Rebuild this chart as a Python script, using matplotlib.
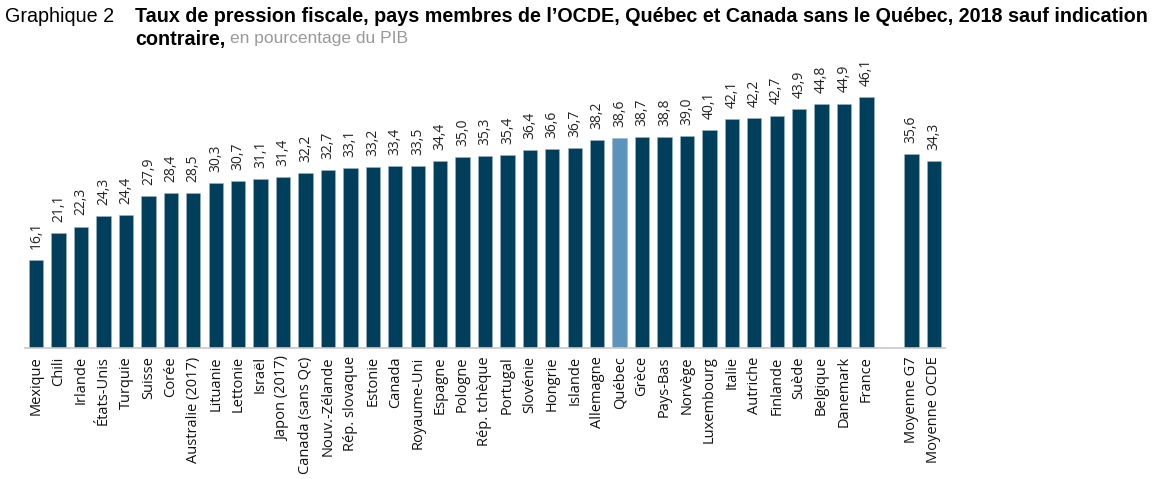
import numpy as np
import matplotlib.pyplot as plt

pays = ['Mexique', 'Chili', 'Irlande', 'États-Unis', 'Turquie', 'Suisse', 'Corée',
        'Australie (2017)', 'Lituanie', 'Lettonie', 'Israël', 'Japon (2017)',
        'Canada (sans Qc)', 'Nouv.-Zélande', 'Rép. slovaque', 'Estonie', 'Canada',
        'Royaume-Uni', 'Espagne', 'Pologne', 'Rép. tchèque', 'Portugal', 'Slovénie',
        'Hongrie', 'Islande', 'Allemagne', 'Québec', 'Grèce', 'Pays-Bas', 'Norvège',
        'Luxembourg', 'Italie', 'Autriche', 'Finlande', 'Suède', 'Belgique',
        'Danemark', 'France']
taux = [16.1, 21.1, 22.3, 24.3, 24.4, 27.9, 28.4, 28.5, 30.3, 30.7, 31.1, 31.4,
        32.2, 32.7, 33.1, 33.2, 33.4, 33.5, 34.4, 35.0, 35.3, 35.4, 36.4, 36.6,
        36.7, 38.2, 38.6, 38.7, 38.8, 39.0, 40.1, 42.1, 42.2, 42.7, 43.9, 44.8,
        44.9, 46.1]
moyennes = ['Moyenne G7', 'Moyenne OCDE']
taux_moy = [35.6, 34.3]

labels = pays + moyennes
valeurs = taux + taux_moy
x = list(range(len(pays))) + [len(pays) + 1, len(pays) + 2]

fonce = '#003F5C'
clair = '#5B93BD'
couleurs = [clair if p == 'Québec' else fonce for p in labels]

fig = plt.figure(figsize=(11.64, 4.79), dpi=100)
ax = fig.add_axes([25 / 1164, 131 / 479, 920 / 1164, 288 / 479])

ax.bar(x, valeurs, width=0.64, color=couleurs, edgecolor='#9FB5C4', linewidth=0.4)
for xi, v in zip(x, valeurs):
    ax.annotate(f'{v:.1f}'.replace('.', ','), (xi, v), xytext=(0, 8),
                textcoords='offset points', rotation=90, ha='center', va='bottom',
                fontsize=10, family='Open Sans', color='#222222')

ax.set_xlim(-0.5, x[-1] + 0.5)
ax.set_ylim(0, 52.9)
ax.set_xticks(x)
ax.set_xticklabels(labels, rotation=90, fontsize=10.5, family='Open Sans', color='#111111')
ax.tick_params(axis='x', length=0, pad=6)
ax.set_yticks([])
for s in ['top', 'right', 'left']:
    ax.spines[s].set_visible(False)
ax.spines['bottom'].set_color('#C8C8C8')
ax.spines['bottom'].set_linewidth(1.2)

fig.text(5 / 1164, 1 - 17 / 479, 'Graphique 2', fontsize=14.2, family='Liberation Sans',
         va='center', ha='left')
fig.text(135 / 1164, 1 - 17 / 479,
         "Taux de pression fiscale, pays membres de l’OCDE, Québec et Canada sans le Québec, 2018 sauf indication",
         fontsize=14.2, family='Liberation Sans', fontweight='bold', va='center', ha='left')
t = fig.text(135 / 1164, 1 - 39 / 479, 'contraire,', fontsize=14.2, family='Liberation Sans',
             fontweight='bold', va='center', ha='left')
fig.canvas.draw()
bb = t.get_window_extent()
fig.text((bb.x1 + 5) / 1164, 1 - 39 / 479, 'en pourcentage du PIB', fontsize=12.5,
         family='Liberation Sans', color='#999999', va='center', ha='left')

fig.savefig('out.png', dpi=100)
